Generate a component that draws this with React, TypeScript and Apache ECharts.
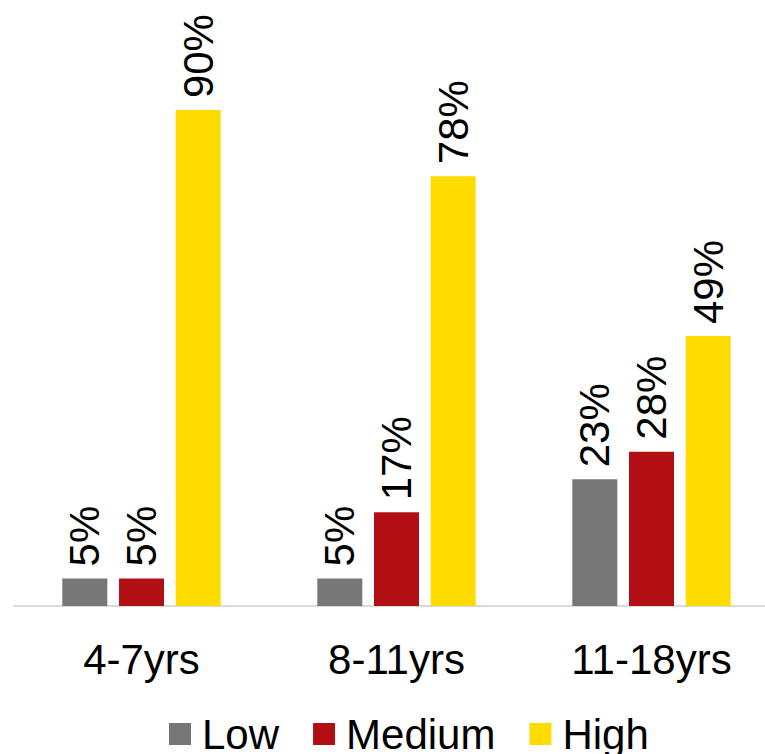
import React, { useEffect, useRef } from "react";
import * as echarts from "echarts";

const categories = ["4-7yrs", "8-11yrs", "11-18yrs"];
const lowValues = [5, 5, 23];
const mediumValues = [5, 17, 28];
const highValues = [90, 78, 49];
const seriesNames = ["Low", "Medium", "High"];
const colors = ["#767676", "#B20F14", "#FFDB00"];

const FONT = "'Liberation Sans', Arial, sans-serif";

export default function App() {
  const ref = useRef<HTMLDivElement>(null);
  useEffect(() => {
    if (!ref.current) return;
    const chart = echarts.init(ref.current, null, { renderer: "svg" });
    const label = {
      show: true,
      position: "top",
      distance: 12,
      rotate: 90,
      align: "left",
      verticalAlign: "middle",
      fontSize: 42,
      fontFamily: FONT,
      color: "#000",
      formatter: (p: any) => p.value + "%",
    };
    const values = [lowValues, mediumValues, highValues];
    chart.setOption({
      animation: false,
      color: colors,
      grid: { left: 14, width: 765, top: 55, bottom: 148, containLabel: false },
      legend: {
        top: 713,
        left: 169,
        padding: 0,
        itemWidth: 22,
        itemHeight: 22,
        itemGap: 34,
        icon: "rect",
        textStyle: {
          fontSize: 42,
          lineHeight: 40,
          fontFamily: FONT,
          color: "#000",
          padding: [0, 0, 0, 6],
        },
        data: seriesNames,
      },
      xAxis: {
        type: "category",
        data: categories,
        axisLine: { lineStyle: { color: "#D9D9D9", width: 2 } },
        axisTick: { show: false },
        axisLabel: { fontSize: 42, fontFamily: FONT, color: "#000", margin: 32 },
      },
      yAxis: {
        type: "value",
        min: 0,
        max: 100,
        show: false,
        splitLine: { show: false },
      },
      series: seriesNames.map((name, i) => ({
        name,
        type: "bar",
        data: values[i],
        barWidth: 45,
        barGap: "26%",
        label,
      })),
    });
    return () => chart.dispose();
  }, []);
  return (
    <div
      style={{
        position: "absolute",
        left: 0,
        top: 0,
        width: 765,
        height: 754,
        overflow: "hidden",
      }}
    >
      <div ref={ref} style={{ width: 792, height: 754 }} />
    </div>
  );
}
